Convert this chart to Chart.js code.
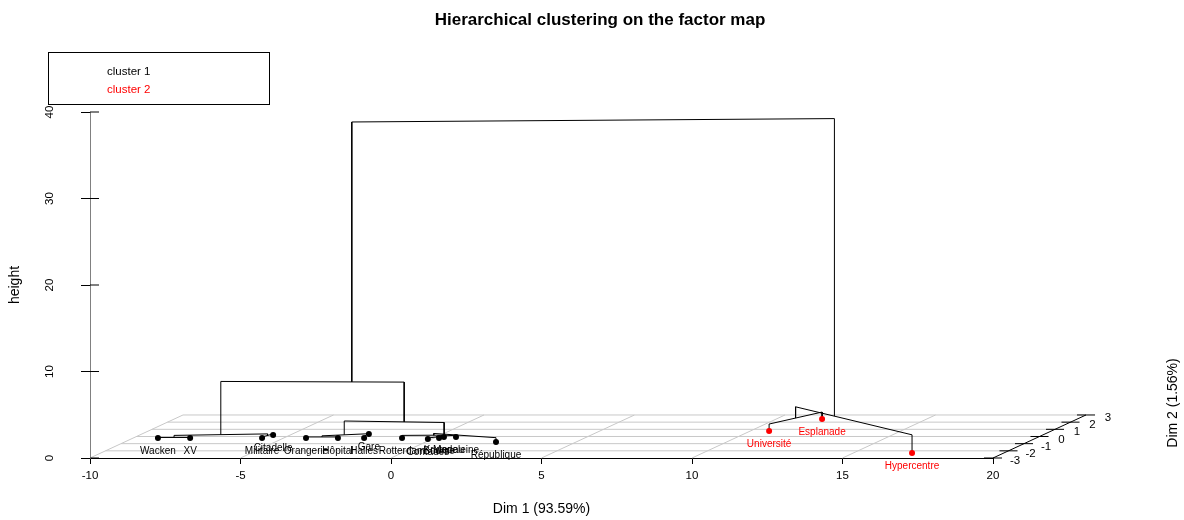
<!DOCTYPE html>
<html>
<head>
<meta charset="utf-8">
<script src="https://cdn.jsdelivr.net/npm/chart.js@4.4.1/dist/chart.umd.min.js"></script>
<style>
  html, body { margin: 0; padding: 0; background: #ffffff; }
  #wrap { width: 1184px; height: 520px; position: relative; }
</style>
</head>
<body>
<div id="wrap"><canvas id="hcpcMap"></canvas></div>
<script>
// Individuals and their coordinates on the factor map
const names = ['Wacken', 'XV', 'Militaire', 'Citadelle', 'Orangerie', 'Hôpital', 'Halles', 'Gare',
    'Rotterdam', 'Contades', 'Bourse', 'Krutenau', 'Madeleine', 'République',
    'Université', 'Esplanade', 'Hypercentre'];
const dim1 = [-9.18, -8.11, -5.72, -5.57, -4.26, -3.20, -2.33, -2.46,
    -1.07, -0.14, 0.16, 0.25, 0.65, 2.34,
    10.62, 11.52, 16.95];
const dim2 = [-0.21, -0.21, -0.21, 0.21, -0.21, -0.21, -0.21, 0.35,
    -0.21, -0.35, -0.21, -0.07, -0.07, -0.77,
    0.77, 2.44, -2.30];
const cluster = [1, 1, 1, 1, 1, 1, 1, 1, 1, 1, 1, 1, 1, 1, 2, 2, 2];

// Tree in hclust "merge" form (negative = individual, positive = earlier merge)
const mergeLeft = [-11, -1, -3, -5, -7, -10, -13, 4, 2, -9, -14, -15, 8, -17, 9, 14];
const mergeRight = [-12, -2, -4, -6, -8, 1, 6, 5, 3, 7, 10, -16, 11, 12, 13, 15];
const mergeHeight = [0.05, 0.06, 0.12, 0.12, 0.15, 0.12, 0.2, 0.25, 0.3, 0.3, 0.5, 0.8, 1.85, 2.1, 6.45, 36.5];

// Axis ticks
const dim1Ticks = [-10, -5, 0, 5, 10, 15, 20];
const dim2Ticks = [-3, -2, -1, 0, 1, 2, 3];
const heightTicks = [0, 10, 20, 30, 40];

const clusterNames = ['cluster 1', 'cluster 2'];
const clusterColors = ['#000000', '#ff0000'];

// oblique projection of the Dim 2 depth axis (in Dim 1 / height units)
const DEPTH_X = 0.515;
const DEPTH_Y = 0.829;

function project(d1, d2, h) {
    const depth = d2 - dim2Ticks[0];
    return { x: d1 + DEPTH_X * depth, y: h + DEPTH_Y * depth };
}

function mean(arr) {
    return arr.reduce((a, b) => a + b, 0) / arr.length;
}

// leaves + merge nodes (node sits at the centroid of its members)
const leaves = names.map((n, i) => ({ members: [i], d1: dim1[i], d2: dim2[i], h: 0 }));
const nodes = [];
function nodeOf(ref) {
    return ref < 0 ? leaves[-ref - 1] : nodes[ref - 1];
}
mergeLeft.forEach((a, k) => {
    const A = nodeOf(a);
    const B = nodeOf(mergeRight[k]);
    const members = A.members.concat(B.members);
    nodes.push({
        members: members,
        d1: mean(members.map(i => dim1[i])),
        d2: mean(members.map(i => dim2[i])),
        h: mergeHeight[k]
    });
});

const GAP = { x: null, y: null };

function buildTree() {
    const pts = [];
    mergeLeft.forEach((a, k) => {
        const A = nodeOf(a);
        const B = nodeOf(mergeRight[k]);
        const h = mergeHeight[k];
        pts.push(project(A.d1, A.d2, A.h), project(A.d1, A.d2, h),
            project(B.d1, B.d2, h), project(B.d1, B.d2, B.h), GAP);
    });
    return pts;
}

function buildFloorGrid() {
    const pts = [];
    const lo = dim1Ticks[0], hi = dim1Ticks[dim1Ticks.length - 1];
    dim2Ticks.slice(1).forEach(t => {
        pts.push(project(lo, t, 0), project(hi, t, 0), GAP);
    });
    dim1Ticks.slice(0, -1).forEach(t => {
        pts.push(project(t, dim2Ticks[0], 0), project(t, dim2Ticks[dim2Ticks.length - 1], 0), GAP);
    });
    return pts;
}

function buildDepthAxis() {
    const hi = dim1Ticks[dim1Ticks.length - 1];
    const pts = [project(hi, dim2Ticks[0], 0), project(hi, dim2Ticks[dim2Ticks.length - 1], 0), GAP];
    dim2Ticks.forEach(t => {
        pts.push(project(hi - 0.3, t, 0), project(hi + 0.3, t, 0), GAP);
    });
    return pts;
}

// right half of the height ticks (the scale draws the left half)
function buildHeightTicks() {
    const pts = [];
    heightTicks.forEach(t => {
        pts.push({ x: dim1Ticks[0], y: t }, { x: dim1Ticks[0] + 0.3, y: t }, GAP);
    });
    return pts;
}

function buildPoints(c) {
    return leaves.filter((l, i) => cluster[i] === c).map(l => project(l.d1, l.d2, 0));
}

// texts: title, legend, point labels, rotated tick labels, Dim 2 axis
const textPlugin = {
    id: 'textPlugin',
    afterDraw(chart) {
        const ctx = chart.ctx;
        const xs = chart.scales.x, ys = chart.scales.y;
        const fam = '"Liberation Sans", Arial, sans-serif';
        ctx.save();

        ctx.fillStyle = '#000';
        ctx.font = 'bold 17px ' + fam;
        ctx.textAlign = 'center';
        ctx.textBaseline = 'middle';
        ctx.fillText('Hierarchical clustering on the factor map', 600, 20);

        // legend box
        ctx.strokeStyle = '#000';
        ctx.lineWidth = 1;
        ctx.strokeRect(48.5, 52.5, 221, 52);
        ctx.font = '11.5px ' + fam;
        ctx.textAlign = 'left';
        clusterNames.forEach((n, i) => {
            ctx.fillStyle = clusterColors[i];
            ctx.fillText(n, 107, 72 + i * 18);
        });

        // point labels
        ctx.font = '10px ' + fam;
        ctx.textAlign = 'center';
        leaves.forEach((l, i) => {
            const p = project(l.d1, l.d2, 0);
            ctx.fillStyle = clusterColors[cluster[i] - 1];
            ctx.fillText(names[i], xs.getPixelForValue(p.x), ys.getPixelForValue(p.y) + 13);
        });

        // height tick labels (rotated)
        ctx.fillStyle = '#000';
        ctx.font = '11.5px ' + fam;
        heightTicks.forEach(t => {
            ctx.save();
            ctx.translate(50, ys.getPixelForValue(t));
            ctx.rotate(-Math.PI / 2);
            ctx.fillText(String(t), 0, 0);
            ctx.restore();
        });

        // Dim 2 tick labels
        const hi = dim1Ticks[dim1Ticks.length - 1];
        dim2Ticks.forEach(t => {
            const p = project(hi, t, 0);
            ctx.fillText(String(t), xs.getPixelForValue(p.x) + 22, ys.getPixelForValue(p.y) + 3);
        });

        ctx.save();
        ctx.font = '14px ' + fam;
        ctx.translate(1173, 403);
        ctx.rotate(-Math.PI / 2);
        ctx.fillText('Dim 2 (1.56%)', 0, 0);
        ctx.restore();

        ctx.restore();
    }
};

function createFactorMap() {
    const ctx = document.getElementById('hcpcMap');
    Chart.defaults.font.family = '"Liberation Sans", Arial, sans-serif';
    new Chart(ctx, {
        type: 'scatter',
        data: {
            datasets: [{
                label: 'grid',
                data: buildFloorGrid(),
                showLine: true,
                spanGaps: false,
                borderColor: '#c8c8c8',
                borderWidth: 1,
                pointRadius: 0,
                clip: false,
                order: 5
            }, {
                label: 'depth axis',
                data: buildDepthAxis(),
                showLine: true,
                spanGaps: false,
                borderColor: '#000',
                borderWidth: 1,
                pointRadius: 0,
                clip: false,
                order: 4
            }, {
                label: 'height ticks',
                data: buildHeightTicks(),
                showLine: true,
                spanGaps: false,
                borderColor: '#000',
                borderWidth: 1,
                pointRadius: 0,
                clip: false,
                order: 4
            }, {
                label: 'tree',
                data: buildTree(),
                showLine: true,
                spanGaps: false,
                borderColor: '#000',
                borderWidth: 1,
                pointRadius: 0,
                clip: false,
                order: 3
            }, {
                label: clusterNames[0],
                data: buildPoints(1),
                backgroundColor: clusterColors[0],
                pointRadius: 3,
                pointBorderWidth: 0,
                clip: false,
                order: 1
            }, {
                label: clusterNames[1],
                data: buildPoints(2),
                backgroundColor: clusterColors[1],
                pointRadius: 3,
                pointBorderWidth: 0,
                clip: false,
                order: 1
            }]
        },
        options: {
            responsive: true,
            maintainAspectRatio: false,
            animation: false,
            events: [],
            layout: { padding: { left: 0, right: 191, top: 112, bottom: 0 } },
            plugins: {
                legend: { display: false },
                title: { display: false },
                tooltip: { enabled: false }
            },
            scales: {
                x: {
                    type: 'linear',
                    min: dim1Ticks[0],
                    max: dim1Ticks[dim1Ticks.length - 1],
                    afterBuildTicks: s => { s.ticks = dim1Ticks.map(v => ({ value: v })); },
                    afterFit: s => { s.height = 62; },
                    grid: { drawOnChartArea: false, tickLength: 6, color: '#000' },
                    border: { color: '#000' },
                    ticks: { color: '#000', padding: 5, font: { size: 11.5 }, maxRotation: 0 },
                    title: { display: true, text: 'Dim 1 (93.59%)', color: '#000', font: { size: 14 }, padding: { top: 0, bottom: 2 } }
                },
                y: {
                    type: 'linear',
                    min: heightTicks[0],
                    max: heightTicks[heightTicks.length - 1],
                    afterBuildTicks: s => { s.ticks = heightTicks.map(v => ({ value: v })); },
                    afterFit: s => { s.width = 90; },
                    grid: { drawOnChartArea: false, tickLength: 9, color: '#000' },
                    border: { color: '#808080' },
                    ticks: { display: false },
                    title: { display: true, text: 'height', color: '#000', font: { size: 14 }, padding: { top: 7, bottom: 0 } }
                }
            }
        },
        plugins: [textPlugin]
    });
}

createFactorMap();
</script>
</body>
</html>
